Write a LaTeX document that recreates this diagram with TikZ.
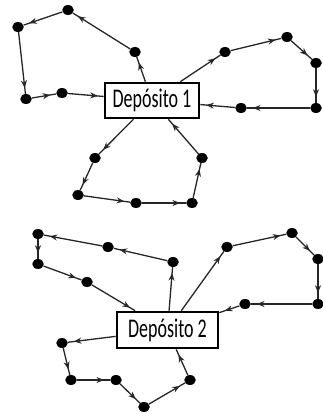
\documentclass[tikz,border=0pt]{standalone}
\usepackage{fontspec}
\setmainfont{Carlito}
\usetikzlibrary{shapes.geometric,arrows.meta,decorations.markings}
\begin{document}
\begin{tikzpicture}[x=1pt,y=-1pt,
  dot/.style={ellipse,fill=black,draw=none,inner sep=0pt,minimum width=11.5pt,minimum height=10pt},
  depot/.style={draw=black,line width=2.6pt,fill=white,inner sep=0pt,font=\fontsize{18}{18}\selectfont},
  route/.style={draw=black!85,line width=1.3pt,
    postaction={decorate,decoration={markings,
      mark=at position -6pt with {\arrow{Stealth[length=7.5pt,width=6pt]}}}}}]
\useasboundingbox (0,0) rectangle (322,414);
% ---------- Depot 1 ----------
\node[depot,minimum width=94pt,minimum height=35pt] (d1) at (152,100.5) {\scalebox{1}[1.5]{Depósito 1}};
\node[dot] (A) at (68,10) {};
\node[dot] (B) at (18,27) {};
\node[dot] (C) at (135,52) {};
\node[dot] (D) at (26,99) {};
\node[dot] (E) at (62,93) {};
\node[dot] (F) at (225,52) {};
\node[dot] (G) at (287,37) {};
\node[dot] (H) at (316,63) {};
\node[dot] (I) at (316,108) {};
\node[dot] (J) at (241,108) {};
\node[dot] (K) at (95,158) {};
\node[dot] (L) at (78,195) {};
\node[dot] (M) at (136,203) {};
\node[dot] (N) at (192,203) {};
\node[dot] (O) at (202,158) {};
\draw[route] (d1) -- (C);
\draw[route] (C) -- (A);
\draw[route] (A) -- (B);
\draw[route] (B) -- (D);
\draw[route] (D) -- (E);
\draw[route] (E) -- (d1);
\draw[route] (d1) -- (F);
\draw[route] (F) -- (G);
\draw[route] (G) -- (H);
\draw[route] (H) -- (I);
\draw[route] (I) -- (J);
\draw[route] (J) -- (d1);
\draw[route] (d1) -- (K);
\draw[route] (K) -- (L);
\draw[route] (L) -- (M);
\draw[route] (M) -- (N);
\draw[route] (N) -- (O);
\draw[route] (O) -- (d1);
% ---------- Depot 2 ----------
\node[depot,minimum width=101pt,minimum height=36pt] (d2) at (167.5,330) {\scalebox{1}[1.5]{Depósito 2}};
\node[dot] (P) at (38,234) {};
\node[dot] (Q) at (108,247) {};
\node[dot] (S) at (38,264) {};
\node[dot] (T) at (87,282) {};
\node[dot] (U) at (173,262) {};
\node[dot] (V) at (227,247) {};
\node[dot] (W) at (292,233) {};
\node[dot] (X) at (318,259) {};
\node[dot] (Y) at (318,304) {};
\node[dot] (Z) at (245,304) {};
\node[dot] (AA) at (62,343) {};
\node[dot] (BB) at (71,380) {};
\node[dot] (CC) at (116,380) {};
\node[dot] (DD) at (144,407) {};
\node[dot] (EE) at (190,380) {};
\draw[route] (d2) -- (U);
\draw[route] (U) -- (Q);
\draw[route] (Q) -- (P);
\draw[route] (P) -- (S);
\draw[route] (S) -- (T);
\draw[route] (T) -- (d2);
\draw[route] (d2) -- (V);
\draw[route] (V) -- (W);
\draw[route] (W) -- (X);
\draw[route] (X) -- (Y);
\draw[route] (Y) -- (Z);
\draw[route] (Z) -- (d2);
\draw[route] (d2) -- (AA);
\draw[route] (AA) -- (BB);
\draw[route] (BB) -- (CC);
\draw[route] (CC) -- (DD);
\draw[route] (DD) -- (EE);
\draw[route] (EE) -- (d2);
\end{tikzpicture}
\end{document}
